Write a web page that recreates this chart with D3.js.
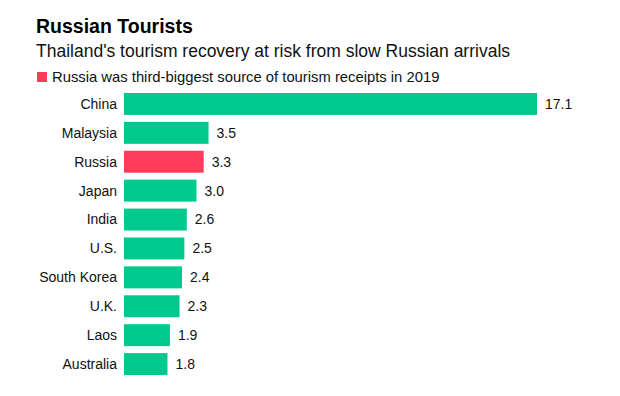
<!DOCTYPE html>
<html lang="en">
	<head>
		<meta charset="utf-8">
		<title>Russian Tourists</title>
		<script type="text/javascript" src="https://d3js.org/d3.v7.min.js"></script>
		<style type="text/css">
			body { margin: 0; background: #fff; }
			text { font-family: "Liberation Sans", Arial, sans-serif; }
		</style>
	</head>
	<body>
		<script type="text/javascript">

			//Data
			var countries = ["China", "Malaysia", "Russia", "Japan", "India", "U.S.", "South Korea", "U.K.", "Laos", "Australia"];
			var receipts = [17.1, 3.5, 3.3, 3.0, 2.6, 2.5, 2.4, 2.3, 1.9, 1.8];
			var labels = ["17.1", "3.5", "3.3", "3.0", "2.6", "2.5", "2.4", "2.3", "1.9", "1.8"];
			var highlight = "Russia";

			//Width and height
			var w = 620;
			var h = 396;

			var green = "#00c98d";
			var red = "#ff3b5c";

			var svg = d3.select("body")
				.append("svg")
				.attr("width", w)
				.attr("height", h);

			svg.append("rect")
				.attr("width", w)
				.attr("height", h)
				.attr("fill", "#fff");

			//Titles
			svg.append("text")
				.attr("x", 36)
				.attr("y", 33)
				.attr("font-size", 19.5)
				.attr("font-weight", "bold")
				.attr("fill", "#000")
				.text("Russian Tourists");

			svg.append("text")
				.attr("x", 36)
				.attr("y", 57)
				.attr("font-size", 17.5)
				.attr("fill", "#111")
				.text("Thailand's tourism recovery at risk from slow Russian arrivals");

			//Legend
			svg.append("rect")
				.attr("x", 37)
				.attr("y", 72)
				.attr("width", 10)
				.attr("height", 10)
				.attr("fill", red);

			svg.append("text")
				.attr("x", 52)
				.attr("y", 82)
				.attr("font-size", 14.8)
				.attr("fill", "#111")
				.text("Russia was third-biggest source of tourism receipts in 2019");

			//Scales
			var data = countries.map(function(c, i) {
				return { country: c, value: receipts[i], label: labels[i] };
			});

			var x = d3.scaleLinear()
				.domain([0, 17.1])
				.range([124, 537]);

			var y = d3.scaleBand()
				.domain(countries)
				.range([86, 382])
				.paddingInner(0.24)
				.paddingOuter(0.24);

			//Bars
			svg.selectAll("rect.bar")
				.data(data)
				.enter()
				.append("rect")
				.attr("class", "bar")
				.attr("x", x(0))
				.attr("y", function(d) { return y(d.country); })
				.attr("width", function(d) { return x(d.value) - x(0); })
				.attr("height", y.bandwidth())
				.attr("fill", function(d) { return d.country === highlight ? red : green; });

			//Category labels
			svg.selectAll("text.cat")
				.data(data)
				.enter()
				.append("text")
				.attr("class", "cat")
				.attr("x", 117)
				.attr("y", function(d) { return y(d.country) + y.bandwidth() / 2; })
				.attr("dy", "0.35em")
				.attr("text-anchor", "end")
				.attr("font-size", 14)
				.attr("fill", "#111")
				.text(function(d) { return d.country; });

			//Value labels
			svg.selectAll("text.val")
				.data(data)
				.enter()
				.append("text")
				.attr("class", "val")
				.attr("x", function(d) { return x(d.value) + 8; })
				.attr("y", function(d) { return y(d.country) + y.bandwidth() / 2; })
				.attr("dy", "0.35em")
				.attr("font-size", 14)
				.attr("fill", "#111")
				.text(function(d) { return d.label; });

		</script>
	</body>
</html>
